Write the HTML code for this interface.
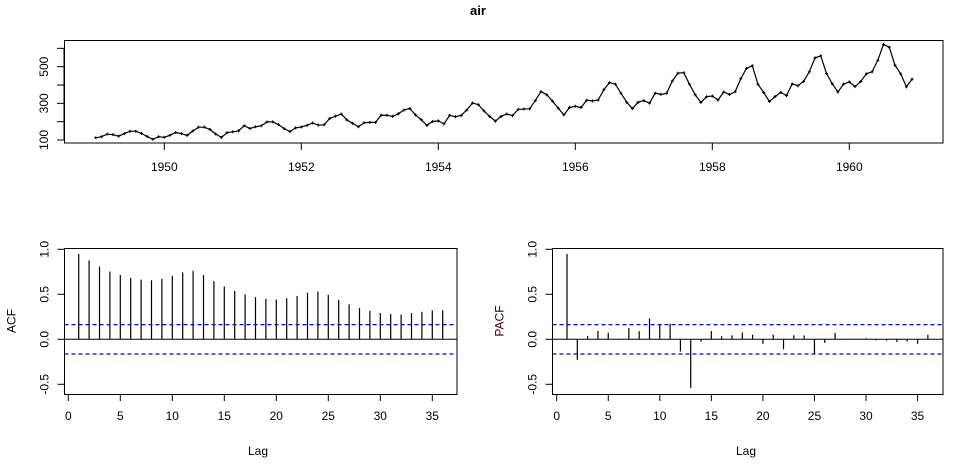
<!DOCTYPE html>
<html><head><meta charset="utf-8"><style>
body{margin:0;background:#fff}
svg{display:block;font-family:"Liberation Sans",Arial,sans-serif}
</style></head><body>
<svg id="c" width="958" height="467" xmlns="http://www.w3.org/2000/svg">
<text x="478" y="15" text-anchor="middle" font-size="13" font-weight="bold">air</text>
</svg>
<script>
const airValues=[112,118,132,129,121,135,148,148,136,119,104,118,115,126,141,135,125,149,170,170,158,133,114,140,145,150,178,163,172,178,199,199,184,162,146,166,171,180,193,181,183,218,230,242,209,191,172,194,196,196,236,235,229,243,264,272,237,211,180,201,204,188,235,227,234,264,302,293,259,229,203,229,242,233,267,269,270,315,364,347,312,274,237,278,284,277,317,313,318,374,413,405,355,306,271,306,315,301,356,348,355,422,465,467,404,347,305,336,340,318,362,348,363,435,491,505,404,359,310,337,360,342,406,396,420,472,548,559,463,407,362,405,417,391,419,461,472,535,622,606,508,461,390,432];
const yearTicks=[1950,1952,1954,1956,1958,1960];
const airTicks=[100,200,300,400,500,600];
const airTickLabels=["100","","300","","500",""];
const acfValues=[0.948,0.876,0.807,0.753,0.714,0.682,0.663,0.656,0.671,0.703,0.743,0.760,0.713,0.646,0.586,0.538,0.500,0.469,0.450,0.442,0.457,0.482,0.517,0.532,0.494,0.437,0.388,0.348,0.316,0.292,0.280,0.275,0.290,0.306,0.320,0.323];
const pacfValues=[0.948,-0.229,0.038,0.094,0.074,0.008,0.126,0.090,0.232,0.166,0.171,-0.135,-0.540,-0.027,0.091,0.033,0.044,0.077,0.051,-0.050,0.051,-0.110,0.045,0.042,-0.160,-0.040,0.070,0.005,0.003,0.012,-0.010,-0.015,-0.030,-0.025,-0.050,0.050];
const corrTicks=[-0.5,0,0.5,1];
const corrTickLabels=["-0.5","0.0","0.5","1.0"];
const lagTicks=[0,5,10,15,20,25,30,35];
const confLimit=1.96/Math.sqrt(144);

const svg=document.getElementById('c');
const NS="http://www.w3.org/2000/svg";
function mk(tag,attrs,parent){const e=document.createElementNS(NS,tag);for(const k in attrs)e.setAttribute(k,attrs[k]);(parent||svg).appendChild(e);return e;}

// ---- top time series
const tx=t=>95.8+(t-1949)*68.5;
const ty=v=>140-(v-100)*0.1833;
const g1=mk('g',{});


let box=mk('rect',{x:64.5,y:40.5,width:878.5,height:102.5,fill:'none',stroke:'#000'},g1);


let pts=airValues.map((v,i)=>tx(1949+i/12).toFixed(1)+','+ty(v).toFixed(1)).join(' ');
let ln=mk('polyline',{points:pts,fill:'none',stroke:'#000','stroke-width':1.2},g1);


airValues.forEach((v,i)=>{const x=tx(1949+i/12),y=ty(v);
 const p=mk('path',{d:`M${x-1.5},${y}h3M${x},${y-1.5}v3`,stroke:'#000','stroke-width':1},g1);
 
 });
mk('line',{x1:tx(1950),x2:tx(1960),y1:143,y2:143,stroke:'#000'},g1);
yearTicks.forEach(t=>{mk('line',{x1:tx(t),x2:tx(t),y1:143,y2:150,stroke:'#000'},g1);
 const tt=mk('text',{x:tx(t),y:171,'text-anchor':'middle','font-size':12},g1);tt.textContent=t;
 
 });
mk('line',{x1:64,x2:64,y1:ty(100),y2:ty(600),stroke:'#000'},g1);
airTicks.forEach((v,i)=>{mk('line',{x1:57,x2:64,y1:ty(v),y2:ty(v),stroke:'#000'},g1);
 if(airTickLabels[i]){const tt=mk('text',{x:0,y:0,'text-anchor':'middle','font-size':12,transform:`translate(48,${ty(v)}) rotate(-90)`},g1);tt.textContent=airTickLabels[i];
 
 }});

// ---- correlation panels
function corrPanel(name,vals,left,right,lag0,pxLag,label,labelColor,xlabX){
 const g=mk('g',{});
 
 
 const y=v=>339.3-v*90;
 const x=l=>lag0+l*pxLag;
 const b=mk('rect',{x:left,y:248.5,width:right-left,height:146,fill:'none',stroke:'#000'},g);
 
 
 mk('line',{x1:left,x2:right,y1:y(0),y2:y(0),stroke:'#000'},g);
 [confLimit,-confLimit].forEach(c=>{const l=mk('line',{x1:left,x2:right,y1:y(c),y2:y(c),stroke:'#0000ee','stroke-dasharray':'4,3','stroke-width':1.2},g);
  
  });
 vals.forEach((v,i)=>{const l=mk('line',{x1:x(i+1),x2:x(i+1),y1:y(0),y2:y(v),stroke:'#000','stroke-width':1.2},g);
  
  });
 mk('line',{x1:x(0),x2:x(35),y1:394.5,y2:394.5,stroke:'#000'},g);
 lagTicks.forEach(t=>{mk('line',{x1:x(t),x2:x(t),y1:394.5,y2:401,stroke:'#000'},g);
  const tt=mk('text',{x:x(t),y:420,'text-anchor':'middle','font-size':12},g);tt.textContent=t;
  
  });
 mk('line',{x1:left,x2:left,y1:y(-0.5),y2:y(1),stroke:'#000'},g);
 corrTicks.forEach((v,i)=>{mk('line',{x1:left-7,x2:left,y1:y(v),y2:y(v),stroke:'#000'},g);
  const tt=mk('text',{x:0,y:0,'text-anchor':'middle','font-size':12,transform:`translate(${left-16},${y(v)}) rotate(-90)`},g);tt.textContent=corrTickLabels[i];
  
  });
 const xl=mk('text',{x:xlabX,y:455,'text-anchor':'middle','font-size':12},g);xl.textContent='Lag';
 
 
 const yl=mk('text',{x:0,y:0,'text-anchor':'middle','font-size':12,fill:labelColor,transform:`translate(${left-49},321) rotate(-90)`},g);yl.textContent=label;
 
 
}
corrPanel('acf',acfValues,64.5,457,68.3,10.4,'ACF','#000',258);
corrPanel('pacf',pacfValues,552.5,943,556.7,10.31,'PACF','#3a0000',746);
</script>
</body></html>
